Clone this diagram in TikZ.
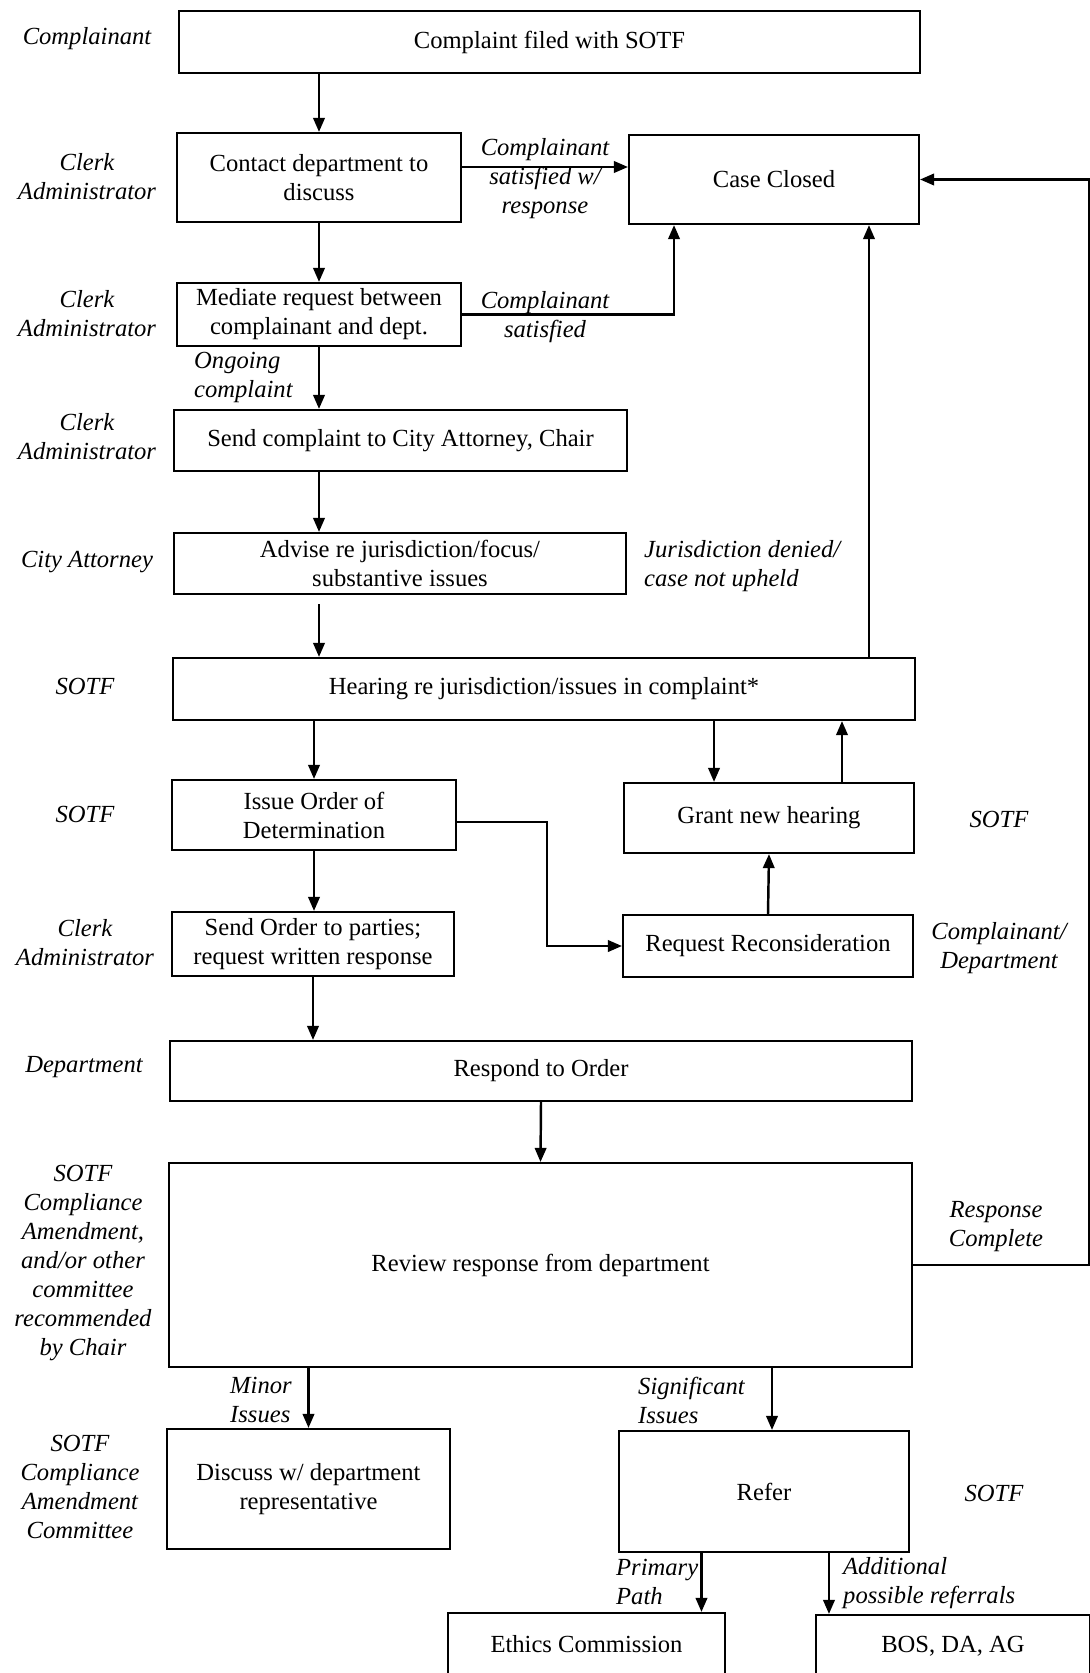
\documentclass[tikz,border=0pt]{standalone}
\usepackage{fontspec}
\setmainfont{Liberation Serif}
\usetikzlibrary{arrows.meta}

\begin{document}
\begin{tikzpicture}[x=0.02cm, y=-0.02cm,
	>={Triangle[length=8pt,width=6.5pt]},
	box/.style={draw, line width=1.2pt, align=center, inner sep=0pt, font=\fontsize{14}{16.5}\selectfont},
	who/.style={align=center, font=\fontsize{14}{16.5}\selectfont\itshape},
	flow/.style={->, line width=1.4pt}]
	% page
	\useasboundingbox (0,0) rectangle (1089,1673);
	
	% steps
	\node[box, minimum width=14.82cm, minimum height=1.24cm] (cfiled) at (549.5,42) {Complaint filed with SOTF};
	\node[box, minimum width=5.68cm, minimum height=1.78cm] (contact) at (319,177.5) {Contact department to\\discuss};
	\node[box, minimum width=5.80cm, minimum height=1.78cm] (closed) at (774,179.5) {Case Closed};
	\node[box, minimum width=5.68cm, minimum height=1.26cm] (mediate) at (319,314.5) {Mediate request between\\complainant and dept.};
	\node[box, minimum width=9.06cm, minimum height=1.22cm] (sendca) at (400.5,440.5) {Send complaint to City Attorney, Chair};
	\node[box, minimum width=9.04cm, minimum height=1.22cm] (advise) at (400,563.5) {Advise re jurisdiction/focus/\\substantive issues};
	\node[box, minimum width=14.84cm, minimum height=1.24cm] (hearing) at (544,689) {Hearing re jurisdiction/issues in complaint*};
	\node[box, minimum width=5.68cm, minimum height=1.40cm] (issue) at (314,815) {Issue Order of\\Determination};
	\node[box, minimum width=5.80cm, minimum height=1.40cm] (grant) at (769,818) {Grant new hearing};
	\node[box, minimum width=5.64cm, minimum height=1.28cm] (sendord) at (313,944) {Send Order to parties;\\request written response};
	\node[box, minimum width=5.80cm, minimum height=1.24cm] (recon) at (768,946) {Request Reconsideration};
	\node[box, minimum width=14.84cm, minimum height=1.20cm] (respond) at (541,1071) {Respond to Order};
	\node[box, minimum width=14.86cm, minimum height=4.08cm] (review) at (540.5,1265) {Review response from department};
	\node[box, minimum width=5.66cm, minimum height=2.40cm] (discuss) at (308.5,1489) {Discuss w/ department\\representative};
	\node[box, minimum width=5.80cm, minimum height=2.42cm] (refer) at (764,1491.5) {Refer};
	\node[box, minimum width=5.54cm, minimum height=1.24cm] (ethics) at (586.5,1644) {Ethics Commission};
	\node[box, minimum width=5.48cm, minimum height=1.24cm] (bos) at (953,1646) {BOS, DA, AG};
	
	% who does it (left)
	\node[who] (w1) at (87,39) {Complainant};
	\node[who] (w2) at (87,177) {Clerk\\Administrator};
	\node[who] (w3) at (87,314) {Clerk\\Administrator};
	\node[who] (w4) at (87,437) {Clerk\\Administrator};
	\node[who] (w5) at (87,562) {City Attorney};
	\node[who] (w6) at (85,686) {SOTF};
	\node[who] (w7) at (85,814) {SOTF};
	\node[who] (w8) at (85,943) {Clerk\\Administrator};
	\node[who] (w9) at (84,1067) {Department};
	\node[who] (w10) at (83,1263) {SOTF\\Compliance\\Amendment,\\and/or other\\committee\\recommended\\by Chair};
	\node[who] (w11) at (80,1487) {SOTF\\Compliance\\Amendment\\Committee};
	
	% who does it (right)
	\node[who] (w12) at (999,819) {SOTF};
	\node[who] (w13) at (999,948) {Complainant/\\Department};
	\node[who] (w14) at (994,1493) {SOTF};
	
	% conditions
	\node[who] (c1) at (545,179) {Complainant\\satisfied w/\\response};
	\node[who] (c2) at (545,317) {Complainant\\satisfied};
	\node[who, align=left, anchor=west] (c3) at (188,377) {Ongoing\\complaint};
	\node[who, align=left, anchor=west] (c4) at (638,566) {Jurisdiction denied/\\case not upheld};
	\node[who] (c5) at (996,1227) {Response\\Complete};
	\node[who, align=left, anchor=west] (c6) at (224,1400) {Minor\\Issues};
	\node[who, align=left, anchor=west] (c7) at (632,1400) {Significant\\Issues};
	\node[who, align=left, anchor=west] (c8) at (610,1582) {Primary\\Path};
	\node[who, align=left, anchor=west] (c9) at (837,1583) {Additional\\possible referrals};
	
	% arrows
	\draw[flow] (cfiled.south -| contact.south) -- (contact.north);
	\draw[flow] ([yshift=0.21cm]contact.east) -- ([yshift=0.21cm]contact.east -| closed.west);
	\draw[flow] (contact.south) -- (mediate.north);
	\draw[flow] (mediate.east) -| ([xshift=-2cm]closed.south);
	\draw[flow] (mediate.south) -- (mediate.south |- sendca.north);
	\draw[flow] (sendca.south -| contact.south) -- (advise.north -| contact.south);
	\draw[flow] ([yshift=-0.18cm]advise.south -| contact.south) -- (hearing.north -| contact.south);
	\draw[flow] ([xshift=1.9cm]closed.south |- hearing.north) -- ([xshift=1.9cm]closed.south);
	\draw[flow] (issue.north |- hearing.south) -- (issue.north);
	\draw[flow] ([xshift=-1.1cm]grant.north |- hearing.south) -- ([xshift=-1.1cm]grant.north);
	\draw[flow] ([xshift=1.46cm]grant.north) -- ([xshift=1.46cm]grant.north |- hearing.south);
	\draw[flow] (issue.south) -- (issue.south |- sendord.north);
	\draw[flow] ([yshift=-0.14cm]issue.east) -- ++(1.8cm,0) |- (recon.west);
	\draw[flow] (recon.north) -- (grant.south);
	\draw[flow] (sendord.south) -- (sendord.south |- respond.north);
	\draw[flow] (respond.south) -- (review.north);
	\draw[flow] (discuss.north |- review.south) -- (discuss.north);
	\draw[flow] ([xshift=0.16cm]refer.north |- review.south) -- ([xshift=0.16cm]refer.north);
	\draw[flow] ([xshift=2.3cm]ethics.north |- refer.south) -- ([xshift=2.3cm]ethics.north);
	\draw[flow] ([xshift=0.28cm]bos.north west |- refer.south) -- ([xshift=0.28cm]bos.north west);
	
	% back to case closed, along the page edge
	\coordinate (rc) at (1089.5,1265);
	\draw[flow] (review.east) -- (rc) |- (closed.east);
\end{tikzpicture}
\end{document}
